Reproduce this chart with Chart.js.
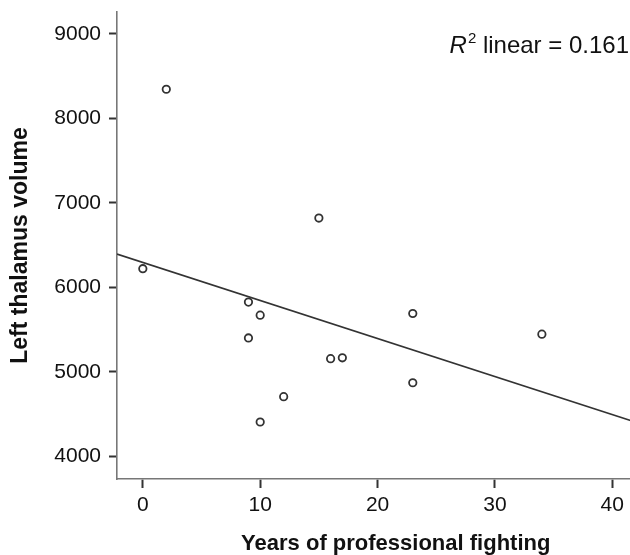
<!DOCTYPE html>
<html>
<head>
<meta charset="utf-8">
<title>Left thalamus volume vs years of professional fighting</title>
<script src="https://cdn.jsdelivr.net/npm/chart.js@4/dist/chart.umd.min.js"></script>
<style>
    html, body { margin: 0; padding: 0; background: #fff; overflow: hidden; }
    #wrap { width: 630px; height: 555px; overflow: hidden; }
</style>
</head>
<body>
<div id="wrap"><canvas id="thalamusChart" width="680" height="555"></canvas></div>
<script>
/* ======= Data ======= */
const years = [0, 2, 9, 9, 10, 10, 12, 15, 16, 17, 23, 23, 34];
const volume = [6220, 8345, 5825, 5400, 5670, 4405, 4705, 6820, 5155, 5165, 5690, 4870, 5445];
const xTicks = [0, 10, 20, 30, 40];
const yTicks = [4000, 5000, 6000, 7000, 8000, 9000];
const r2Label = "0.161";

// axis ranges (the original figure is cropped on the right)
const xMin = -2.2, xMax = 45.3;
const yMin = 3730, yMax = 9260;

const fontFamily = "'Liberation Sans', Arial, Helvetica, sans-serif";

/* ======= Linear fit ======= */
function linearFit(xs, ys) {
    const n = xs.length;
    const mx = xs.reduce((a, b) => a + b, 0) / n;
    const my = ys.reduce((a, b) => a + b, 0) / n;
    let sxy = 0, sxx = 0;
    xs.forEach(function (x, i) {
        sxy += (x - mx) * (ys[i] - my);
        sxx += (x - mx) * (x - mx);
    });
    const slope = sxy / sxx;
    return { slope: slope, intercept: my - slope * mx };
}
const fit = linearFit(years, volume);

/* ======= R² annotation ======= */
const r2Text = {
    id: 'r2Text',
    afterDraw(chart) {
        const ctx = chart.ctx;
        const rest = " linear = " + r2Label;
        ctx.save();
        ctx.fillStyle = "#111";
        ctx.textBaseline = "alphabetic";
        ctx.font = "24px " + fontFamily;
        const restW = ctx.measureText(rest).width;
        ctx.font = "15px " + fontFamily;
        const supW = ctx.measureText("2").width;
        ctx.font = "italic 24px " + fontFamily;
        const rW = ctx.measureText("R").width;
        let x = 630 - restW - supW - rW - 2;
        const y = 53;
        ctx.fillText("R", x, y);
        x += rW + 1;
        ctx.font = "15px " + fontFamily;
        ctx.fillText("2", x, y - 10);
        x += supW;
        ctx.font = "24px " + fontFamily;
        ctx.fillText(rest, x, y);
        ctx.restore();
    }
};

/* ======= Scatter chart ======= */
const ctx = document.getElementById("thalamusChart");
new Chart(ctx, {
    type: "scatter",
    data: {
        datasets: [{
                label: "Left thalamus volume",
                data: years.map((x, i) => ({ x: x, y: volume[i] })),
                borderColor: "#333",
                backgroundColor: "rgba(255,255,255,0)",
                borderWidth: 1.8,
                pointRadius: 3.7,
                pointHoverRadius: 3.7,
                pointStyle: "circle",
            },
            {
                type: "line",
                label: "Linear fit",
                data: [
                    { x: xMin, y: fit.intercept + fit.slope * xMin },
                    { x: xMax, y: fit.intercept + fit.slope * xMax },
                ],
                borderColor: "#333",
                borderWidth: 1.6,
                pointRadius: 0,
                fill: false,
                tension: 0,
            },
        ],
    },
    options: {
        responsive: false,
        animation: false,
        events: [],
        layout: {
            padding: { top: 12, left: 0, right: 0, bottom: 0 },
        },
        plugins: {
            legend: { display: false },
            tooltip: { enabled: false },
        },
        scales: {
            x: {
                type: "linear",
                position: "bottom",
                min: xMin,
                max: xMax,
                afterBuildTicks: (scale) => {
                    scale.ticks = xTicks.map(v => ({ value: v }));
                },
                afterFit: (scale) => {
                    scale.height = 76;
                    scale.paddingLeft = 0;
                    scale.paddingRight = 0;
                },
                grid: {
                    display: true,
                    drawOnChartArea: false,
                    drawTicks: true,
                    tickLength: 9,
                    tickWidth: 2,
                    tickColor: "#333",
                },
                border: { display: true, color: "#777", width: 1.6 },
                ticks: {
                    autoSkip: false,
                    maxRotation: 0,
                    padding: 5,
                    color: "#111",
                    font: { family: fontFamily, size: 21 },
                },
                title: {
                    display: true,
                    text: "Years of professional fighting",
                    color: "#111",
                    padding: { top: 0, bottom: 0 },
                    font: { family: fontFamily, size: 22, weight: "bold", lineHeight: 1 },
                },
            },
            y: {
                type: "linear",
                min: yMin,
                max: yMax,
                afterBuildTicks: (scale) => {
                    scale.ticks = yTicks.map(v => ({ value: v }));
                },
                afterFit: (scale) => {
                    scale.width = 117;
                    scale.paddingTop = 0;
                    scale.paddingBottom = 0;
                },
                grid: {
                    display: true,
                    drawOnChartArea: false,
                    drawTicks: true,
                    tickLength: 8,
                    tickWidth: 2,
                    tickColor: "#333",
                },
                border: { display: true, color: "#777", width: 1.6 },
                ticks: {
                    padding: 8,
                    color: "#111",
                    font: { family: fontFamily, size: 21 },
                    callback: (value) => String(value),
                },
                title: {
                    display: true,
                    text: "Left thalamus volume",
                    color: "#111",
                    padding: { top: 9, bottom: 0 },
                    font: { family: fontFamily, size: 23, weight: "bold", lineHeight: 1 },
                },
            },
        },
    },
    plugins: [r2Text]
});
</script>
</body>
</html>
